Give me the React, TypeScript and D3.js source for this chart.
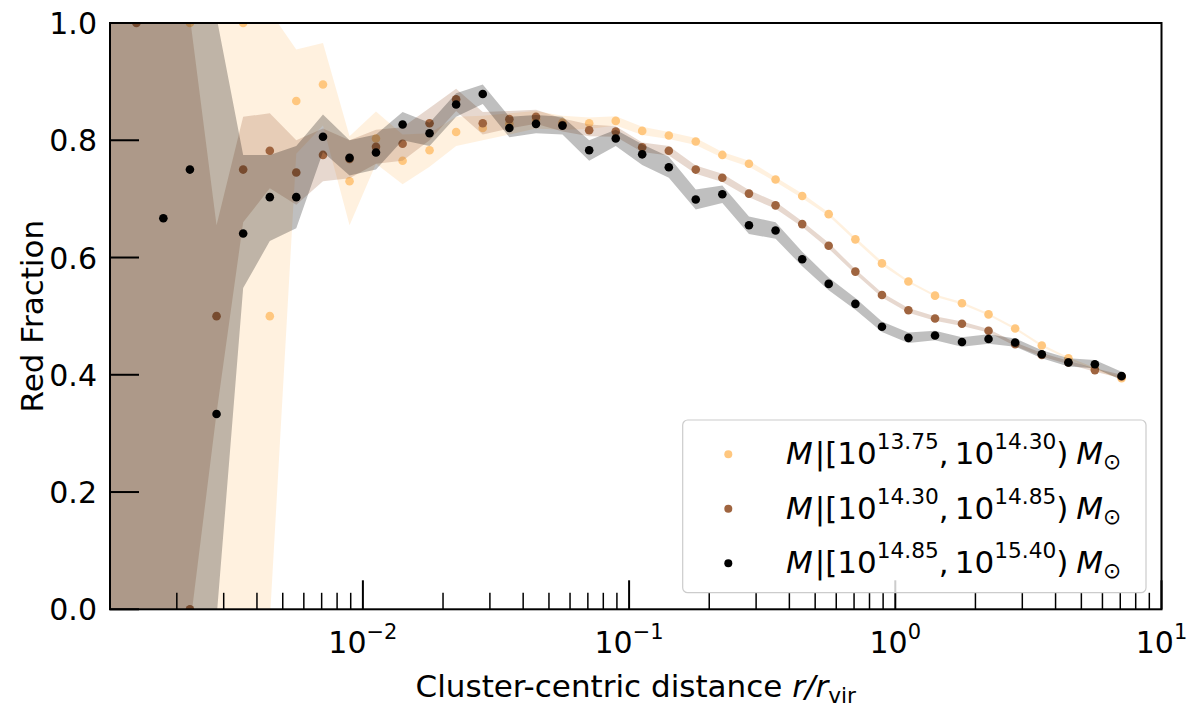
import React from "react";
import * as d3 from "d3";

// Bin centres (cluster-centric distance r / r_vir)
const radius = [
  0.00112, 0.00141, 0.00178, 0.00224, 0.00282, 0.00355, 0.00447, 0.00562, 0.00708, 0.00891,
  0.0112, 0.0141, 0.0178, 0.0224, 0.0282, 0.0355, 0.0447, 0.0562, 0.0708, 0.0891,
  0.112, 0.141, 0.178, 0.224, 0.282, 0.355, 0.447, 0.562, 0.708, 0.891,
  1.12, 1.41, 1.78, 2.24, 2.82, 3.55, 4.47, 5.62, 7.08,
];

// M in [10^13.75, 10^14.30)
const lowMassRF = [
  null, null, null, 1.0, null, 1.0, 0.5, 0.867, 0.895, 0.73,
  0.803, 0.765, 0.783, 0.814, 0.821, 0.828, 0.836, 0.83, 0.829, 0.833,
  0.816, 0.808, 0.798, 0.775, 0.76, 0.733, 0.705, 0.674, 0.631, 0.59,
  0.559, 0.535, 0.522, 0.503, 0.479, 0.45, 0.428, 0.41, 0.394,
];
const lowMassLo = [
  -0.5, null, null, -0.5, null, -0.05, -0.02, 0.777, 0.825, 0.655,
  0.76, 0.725, 0.755, 0.79, 0.8, 0.81, 0.82, 0.818, 0.819, 0.825,
  0.809, 0.802, 0.792, 0.77, 0.755, 0.729, 0.701, 0.671, 0.628, 0.587,
  0.557, 0.533, 0.52, 0.501, 0.477, 0.448, 0.426, 0.408, 0.392,
];
const lowMassHi = [
  1.5, null, null, 1.5, null, 1.5, 1.02, 0.955, 0.966, 0.807,
  0.849, 0.81, 0.812, 0.84, 0.842, 0.846, 0.85, 0.842, 0.839, 0.841,
  0.823, 0.814, 0.804, 0.78, 0.765, 0.737, 0.709, 0.677, 0.634, 0.593,
  0.561, 0.537, 0.524, 0.505, 0.481, 0.452, 0.43, 0.412, 0.396,
];

// M in [10^14.30, 10^14.85)
const midMassRF = [
  null, 1.0, null, 0.0, 0.5, 0.75, 0.782, 0.745, 0.775, 0.768,
  0.789, 0.794, 0.829, 0.87, 0.829, 0.836, 0.84, 0.826, 0.817, 0.815,
  0.788, 0.782, 0.75, 0.736, 0.709, 0.689, 0.657, 0.62, 0.576, 0.536,
  0.51, 0.496, 0.487, 0.475, 0.452, 0.434, 0.421, 0.408, 0.397,
];
const midMassLo = [
  -0.5, -0.5, null, -0.03, 0.335, 0.66, 0.718, 0.69, 0.73, 0.735,
  0.76, 0.765, 0.8, 0.85, 0.81, 0.82, 0.828, 0.815, 0.807, 0.806,
  0.78, 0.774, 0.743, 0.729, 0.703, 0.683, 0.652, 0.615, 0.572, 0.532,
  0.506, 0.492, 0.483, 0.472, 0.449, 0.431, 0.418, 0.405, 0.394,
];
const midMassHi = [
  1.5, 1.5, null, 1.01, 0.655, 0.84, 0.846, 0.8, 0.82, 0.8,
  0.818, 0.822, 0.855, 0.888, 0.848, 0.85, 0.852, 0.837, 0.827, 0.824,
  0.796, 0.79, 0.757, 0.743, 0.715, 0.695, 0.662, 0.625, 0.58, 0.54,
  0.514, 0.5, 0.491, 0.478, 0.455, 0.437, 0.424, 0.411, 0.4,
];

// M in [10^14.85, 10^15.40)
const highMassRF = [
  null, null, 0.667, 0.75, 0.333, 0.641, 0.703, 0.703, 0.806, 0.77,
  0.779, 0.827, 0.812, 0.861, 0.879, 0.821, 0.828, 0.825, 0.783, 0.803,
  0.776, 0.754, 0.699, 0.708, 0.655, 0.646, 0.597, 0.555, 0.521, 0.482,
  0.463, 0.467, 0.456, 0.461, 0.455, 0.435, 0.421, 0.418, 0.398,
];
const highMassLo = [
  -0.5, -0.5, -0.3, -0.3, -0.015, 0.548, 0.628, 0.65, 0.78, 0.74,
  0.75, 0.8, 0.79, 0.84, 0.862, 0.805, 0.812, 0.81, 0.765, 0.79,
  0.758, 0.736, 0.682, 0.693, 0.64, 0.632, 0.585, 0.544, 0.511, 0.473,
  0.454, 0.459, 0.448, 0.453, 0.448, 0.428, 0.414, 0.411, 0.391,
];
const highMassHi = [
  1.5, 1.5, 1.6, 1.8, 1.01, 0.775, 0.775, 0.79, 0.844, 0.8,
  0.81, 0.848, 0.83, 0.88, 0.895, 0.84, 0.843, 0.84, 0.8, 0.818,
  0.793, 0.772, 0.716, 0.723, 0.67, 0.66, 0.61, 0.566, 0.531, 0.491,
  0.472, 0.475, 0.464, 0.469, 0.462, 0.442, 0.428, 0.425, 0.405,
];

const seriesColors = ["#ffc77f", "#9f643f", "#000000"];
const legendBounds = [
  ["13.75", "14.30"],
  ["14.30", "14.85"],
  ["14.85", "15.40"],
];
const xMajorExps = [-2, -1, 0, 1];
const yTicks = [0, 0.2, 0.4, 0.6, 0.8, 1.0];
const yTickLabels = ["0.0", "0.2", "0.4", "0.6", "0.8", "1.0"];

const W = 1196;
const H = 708;
const PL = 110;
const PR = 1161.5;
const PT = 23;
const PB = 609.3;
const FONT = "DejaVu Sans";
const FS = 30;
const AFS = 31;
const LFS = 31;

export default function App() {
  const x = d3.scaleLog().domain([Math.pow(10, -2.95), 10]).range([PL, PR]);
  const y = d3.scaleLinear().domain([0, 1]).range([PB, PT]);

  const series = [
    { rf: lowMassRF, lo: lowMassLo, hi: lowMassHi, color: seriesColors[0] },
    { rf: midMassRF, lo: midMassLo, hi: midMassHi, color: seriesColors[1] },
    { rf: highMassRF, lo: highMassLo, hi: highMassHi, color: seriesColors[2] },
  ];

  const area = d3
    .area<{ r: number; lo: number; hi: number }>()
    .x((d) => x(d.r))
    .y0((d) => y(d.lo))
    .y1((d) => y(d.hi));

  const minorTicks: number[] = [];
  for (let e = -3; e <= 0; e++) {
    for (let m = 2; m <= 9; m++) {
      const v = m * Math.pow(10, e);
      if (v >= x.domain()[0] && v <= 10) minorTicks.push(v);
    }
  }

  const sup = FS * 0.7;
  const asup = AFS * 0.7;
  const lsup = LFS * 0.7;

  return (
    <div style={{ position: "absolute", left: 0, top: 0 }}>
      <svg width={W} height={H} style={{ display: "block", background: "#fff" }} fontFamily={FONT}>
        <defs>
          <clipPath id="plotclip">
            <rect x={PL} y={PT} width={PR - PL} height={PB - PT} />
          </clipPath>
        </defs>
        <rect x={0} y={0} width={W} height={H} fill="#fff" />
        <g clipPath="url(#plotclip)">
          {series.map((s, i) => {
            const bandData = radius
              .map((r, k) => ({ r, lo: s.lo[k] as number, hi: s.hi[k] as number }))
              .filter((d) => d.lo !== null && d.hi !== null);
            const pts = radius
              .map((r, k) => ({ r, v: s.rf[k] as number }))
              .filter((d) => d.v !== null);
            return (
              <g key={i}>
                <path d={area(bandData) || ""} fill={s.color} fillOpacity={0.25} stroke="none" />
                {pts.map((p, j) => (
                  <circle key={j} cx={x(p.r)} cy={y(p.v)} r={4.3} fill={s.color} />
                ))}
              </g>
            );
          })}
        </g>

        {minorTicks.map((v, i) => (
          <line key={"mn" + i} x1={x(v)} x2={x(v)} y1={PB} y2={PB - 16.5} stroke="#000" strokeWidth={1.5} />
        ))}
        {xMajorExps.map((e) => (
          <line key={"mj" + e} x1={x(Math.pow(10, e))} x2={x(Math.pow(10, e))} y1={PB} y2={PB - 29} stroke="#000" strokeWidth={2} />
        ))}
        {yTicks.map((v) => (
          <line key={"yt" + v} x1={PL} x2={PL + 29} y1={y(v)} y2={y(v)} stroke="#000" strokeWidth={2} />
        ))}

        <g>
          <rect x={682.7} y={420} width={463.3} height={172.7} rx={5} fill="#fff" fillOpacity={0.8} stroke="#cccccc" strokeWidth={1.2} />
          {legendBounds.map((b, i) => {
            const cy = 454.3 + i * 54.5;
            return (
              <g key={"lg" + i}>
                <circle cx={728.3} cy={cy} r={4} fill={seriesColors[i]} />
                <text x={786} y={cy + 10} fontSize={LFS} fill="#000">
                  <tspan fontStyle="italic">M</tspan>
                  <tspan dx={2}>|[10</tspan>
                  <tspan fontSize={lsup} dy={-15}>{b[0]}</tspan>
                  <tspan dy={15}>,</tspan>
                  <tspan dx={6}>10</tspan>
                  <tspan fontSize={lsup} dy={-15}>{b[1]}</tspan>
                  <tspan dy={15}>)</tspan>
                  <tspan dx={8} fontStyle="italic">M</tspan>
                  <tspan fontSize={lsup} dy={5}>⊙</tspan>
                </text>
              </g>
            );
          })}
        </g>

        <rect x={PL} y={PT} width={PR - PL} height={PB - PT} fill="none" stroke="#000" strokeWidth={2} />

        {yTicks.map((v, i) => (
          <text key={"yl" + v} x={97} y={y(v) + 11} textAnchor="end" fontSize={FS} fill="#000">
            {yTickLabels[i]}
          </text>
        ))}
        {xMajorExps.map((e) => (
          <text key={"xl" + e} x={x(Math.pow(10, e))} y={653} textAnchor="middle" fontSize={FS} fill="#000">
            <tspan>10</tspan>
            <tspan fontSize={sup} dy={-14}>{e < 0 ? "\u2212" + Math.abs(e) : String(e)}</tspan>
          </text>
        ))}

        <text x={(PL + PR) / 2} y={697} textAnchor="middle" fontSize={AFS} fill="#000">
          <tspan>Cluster-centric distance </tspan>
          <tspan fontStyle="italic">r/r</tspan>
          <tspan fontSize={asup} dy={6}>vir</tspan>
        </text>
        <text transform={`translate(43, ${(PT + PB) / 2}) rotate(-90)`} textAnchor="middle" fontSize={AFS} fill="#000">
          Red Fraction
        </text>
      </svg>
    </div>
  );
}
